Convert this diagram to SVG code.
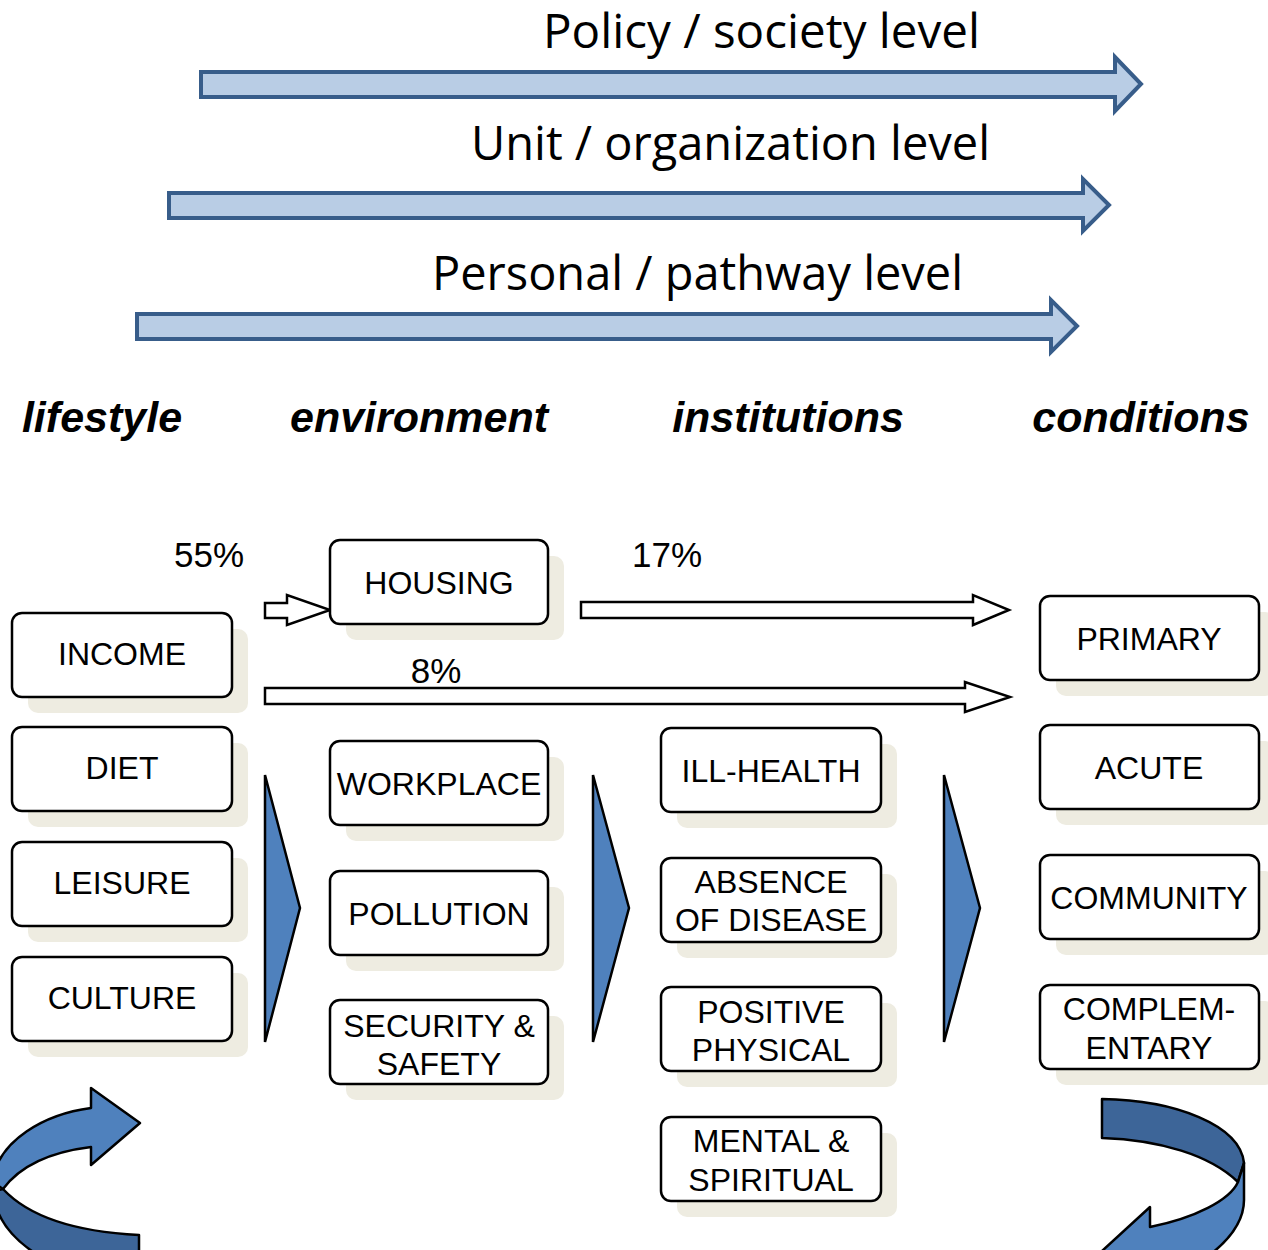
<svg xmlns="http://www.w3.org/2000/svg" width="1268" height="1250" viewBox="0 0 1268 1250">
<style>
.lvl{fill:#B9CDE5;stroke:#385D8A;stroke-width:4;stroke-linejoin:miter}
.ttl{font-family:"Open Sans","Liberation Sans",sans-serif;font-size:47px;fill:#000;text-anchor:start}
.hdr{font-family:"Liberation Sans",Arial,sans-serif;font-size:43px;font-weight:bold;font-style:italic;fill:#000;text-anchor:middle}
.box{fill:#fff;stroke:#000;stroke-width:2.5}
.shd{fill:#EEECE1;stroke:none}
.bt{font-family:"Liberation Sans",Arial,sans-serif;font-size:32px;fill:#000;text-anchor:middle}
.pct{font-family:"Liberation Sans",Arial,sans-serif;font-size:35px;fill:#000;text-anchor:middle}
.blk{fill:#fff;stroke:#000;stroke-width:2.5;stroke-linejoin:miter}
.chev{fill:#4F81BD;stroke:#000;stroke-width:2.5;stroke-linejoin:miter}
.cl{fill:#4F81BD;stroke:#000;stroke-width:2.5;stroke-linejoin:round}
.cd{fill:#3D6598;stroke:#000;stroke-width:2.5;stroke-linejoin:round}
</style>
<rect width="1268" height="1250" fill="#fff"/>

<g id="level-arrows">
<path class="lvl" d="M201 72 L1115 72 L1115 57 L1141 84 L1115 111 L1115 97 L201 97 Z"/>
<path class="lvl" d="M169 193 L1083 193 L1083 179 L1109 205 L1083 231 L1083 218 L169 218 Z"/>
<path class="lvl" d="M137 314 L1051 314 L1051 300 L1077 326 L1051 352 L1051 339 L137 339 Z"/>
</g>
<g id="level-titles">
<text class="ttl" x="543" y="48" textLength="437" lengthAdjust="spacingAndGlyphs">Policy / society level</text>
<text class="ttl" x="471" y="160" textLength="519" lengthAdjust="spacingAndGlyphs">Unit / organization level</text>
<text class="ttl" x="432" y="290" textLength="531" lengthAdjust="spacingAndGlyphs">Personal / pathway level</text>
</g>

<g id="headers">
<text class="hdr" x="102" y="432">lifestyle</text>
<text class="hdr" x="419" y="432">environment</text>
<text class="hdr" x="788" y="432">institutions</text>
<text class="hdr" x="1141" y="432">conditions</text>
</g>

<g id="connectors">
<path class="blk" d="M265 603 L287 603 L287 595 L330 610 L287 625 L287 618 L265 618 Z"/>
<path class="blk" d="M581 602 L973 602 L973 595 L1009 610 L973 625 L973 618 L581 618 Z"/>
<path class="blk" d="M265 688 L965 688 L965 682 L1010 697 L965 712 L965 704 L265 704 Z"/>
<text class="pct" x="209" y="567">55%</text>
<text class="pct" x="667" y="567">17%</text>
<text class="pct" x="436" y="683">8%</text>
<path class="chev" d="M265 775 L300 908 L265 1042 Z"/>
<path class="chev" d="M593 775 L629 908 L593 1042 Z"/>
<path class="chev" d="M944 775 L980 908 L944 1042 Z"/>
</g>

<g id="income"><rect class="shd" x="28" y="629" width="220" height="84" rx="10"/><rect class="box" x="12" y="613" width="220" height="84" rx="10"/><text class="bt" x="122" y="665">INCOME</text></g>
<g id="diet"><rect class="shd" x="28" y="743" width="220" height="84" rx="10"/><rect class="box" x="12" y="727" width="220" height="84" rx="10"/><text class="bt" x="122" y="779">DIET</text></g>
<g id="leisure"><rect class="shd" x="28" y="858" width="220" height="84" rx="10"/><rect class="box" x="12" y="842" width="220" height="84" rx="10"/><text class="bt" x="122" y="894">LEISURE</text></g>
<g id="culture"><rect class="shd" x="28" y="973" width="220" height="84" rx="10"/><rect class="box" x="12" y="957" width="220" height="84" rx="10"/><text class="bt" x="122" y="1009">CULTURE</text></g>

<g id="housing"><rect class="shd" x="346" y="556" width="218" height="84" rx="10"/><rect class="box" x="330" y="540" width="218" height="84" rx="10"/><text class="bt" x="439" y="594">HOUSING</text></g>
<g id="workplace"><rect class="shd" x="346" y="757" width="218" height="84" rx="10"/><rect class="box" x="330" y="741" width="218" height="84" rx="10"/><text class="bt" x="439" y="795">WORKPLACE</text></g>
<g id="pollution"><rect class="shd" x="346" y="887" width="218" height="84" rx="10"/><rect class="box" x="330" y="871" width="218" height="84" rx="10"/><text class="bt" x="439" y="925">POLLUTION</text></g>
<g id="security"><rect class="shd" x="346" y="1016" width="218" height="84" rx="10"/><rect class="box" x="330" y="1000" width="218" height="84" rx="10"/><text class="bt" x="439" y="1037">SECURITY &amp;</text><text class="bt" x="439" y="1075">SAFETY</text></g>

<g id="ill-health"><rect class="shd" x="677" y="744" width="220" height="84" rx="10"/><rect class="box" x="661" y="728" width="220" height="84" rx="10"/><text class="bt" x="771" y="782">ILL-HEALTH</text></g>
<g id="absence"><rect class="shd" x="677" y="874" width="220" height="84" rx="10"/><rect class="box" x="661" y="858" width="220" height="84" rx="10"/><text class="bt" x="771" y="893">ABSENCE</text><text class="bt" x="771" y="931">OF DISEASE</text></g>
<g id="positive"><rect class="shd" x="677" y="1003" width="220" height="84" rx="10"/><rect class="box" x="661" y="987" width="220" height="84" rx="10"/><text class="bt" x="771" y="1023">POSITIVE</text><text class="bt" x="771" y="1061">PHYSICAL</text></g>
<g id="mental"><rect class="shd" x="677" y="1133" width="220" height="84" rx="10"/><rect class="box" x="661" y="1117" width="220" height="84" rx="10"/><text class="bt" x="771" y="1152">MENTAL &amp;</text><text class="bt" x="771" y="1191">SPIRITUAL</text></g>

<g id="primary"><rect class="shd" x="1056" y="612" width="219" height="84" rx="10"/><rect class="box" x="1040" y="596" width="219" height="84" rx="10"/><text class="bt" x="1149" y="650">PRIMARY</text></g>
<g id="acute"><rect class="shd" x="1056" y="741" width="219" height="84" rx="10"/><rect class="box" x="1040" y="725" width="219" height="84" rx="10"/><text class="bt" x="1149" y="779">ACUTE</text></g>
<g id="community"><rect class="shd" x="1056" y="871" width="219" height="84" rx="10"/><rect class="box" x="1040" y="855" width="219" height="84" rx="10"/><text class="bt" x="1149" y="909">COMMUNITY</text></g>
<g id="complementary"><rect class="shd" x="1056" y="1001" width="219" height="84" rx="10"/><rect class="box" x="1040" y="985" width="219" height="84" rx="10"/><text class="bt" x="1149" y="1020">COMPLEM-</text><text class="bt" x="1149" y="1059">ENTARY</text></g>

<g id="cycle-left">
<path class="cd" d="M3 1189 C30 1218 80 1232 139 1235 L139 1262 L50 1262 C20 1246 -2 1226 -8 1192 Z"/>
<path class="cl" d="M140 1123 L91 1088 L91 1108 C45 1114 -2 1140 -8 1182 L3 1189 C20 1166 50 1152 91 1147 L91 1165 Z"/>
</g>
<g id="cycle-right">
<path class="cd" d="M1102 1099 C1175 1100 1240 1125 1244 1163 L1238 1182 C1210 1155 1160 1140 1102 1138 Z"/>
<path class="cl" d="M1244 1163 L1244 1200 C1244 1225 1225 1245 1200 1262 L1090 1262 L1150 1207 L1150 1227 C1195 1218 1230 1200 1238 1182 Z"/>
</g>
</svg>
